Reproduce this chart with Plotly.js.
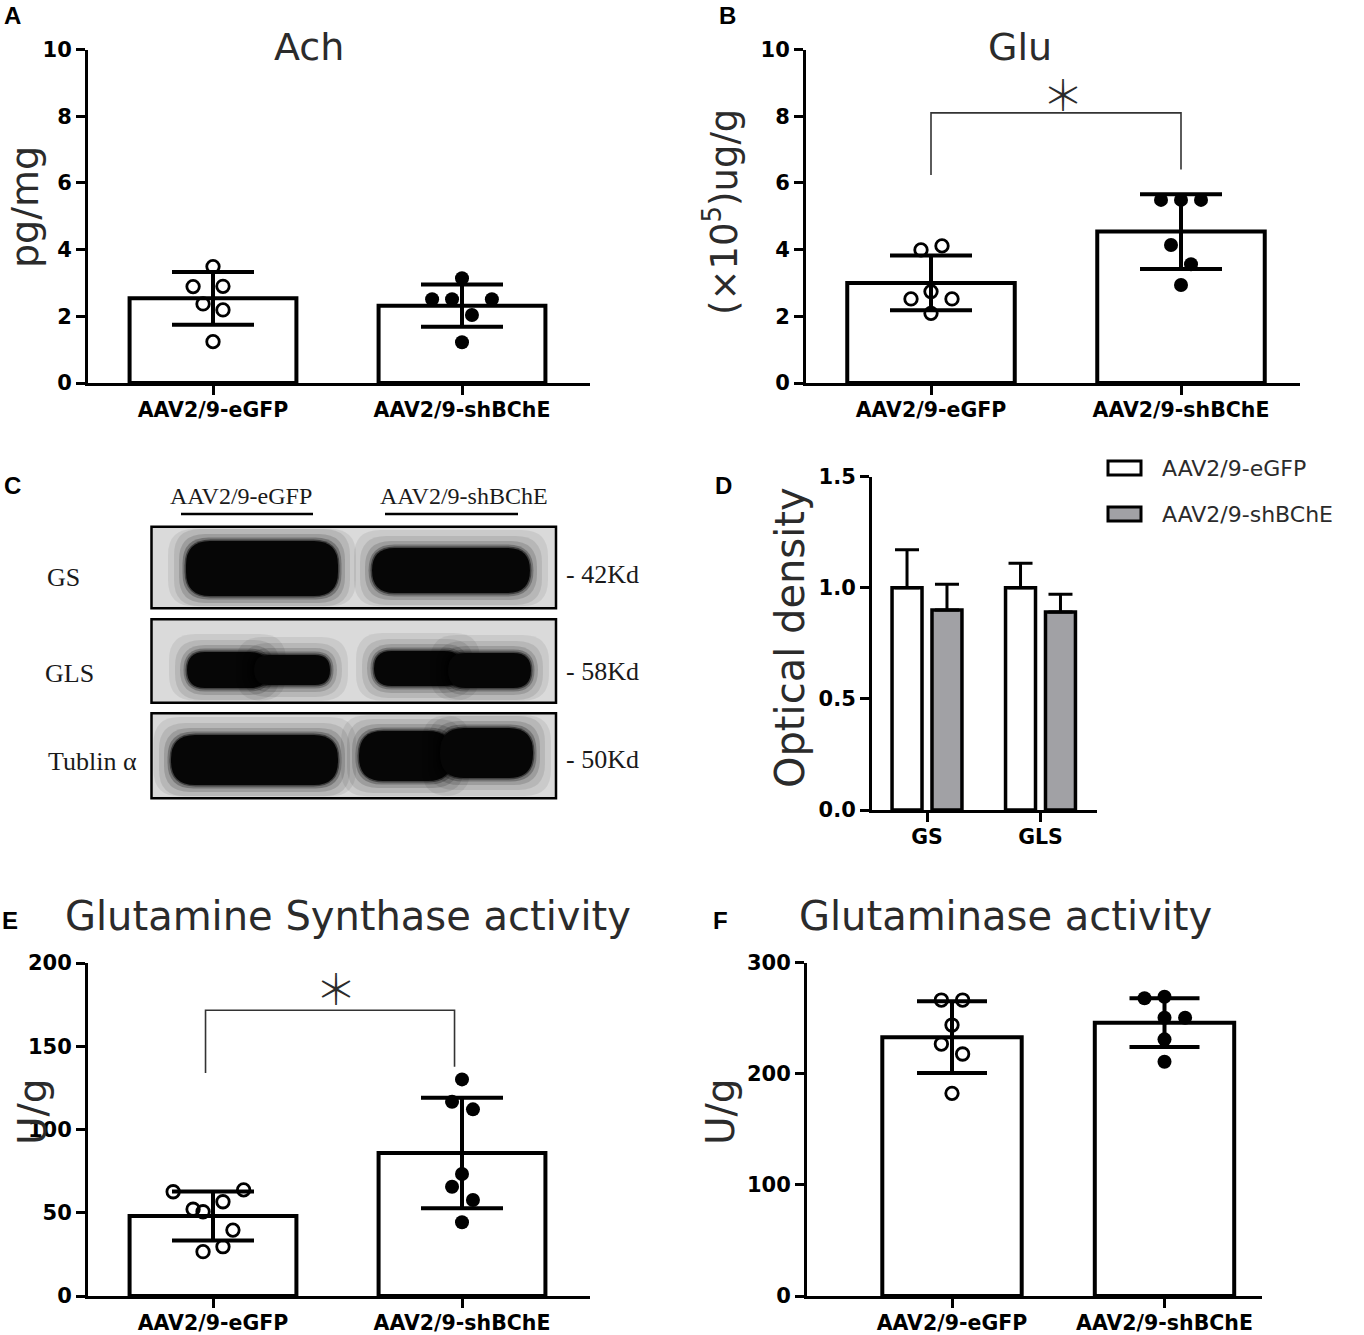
<!DOCTYPE html>
<html><head><meta charset="utf-8">
<script src="https://cdn.plot.ly/plotly-3.0.1.min.js"></script>
<style>body{margin:0;background:#fff}#chart{width:1364px;height:1335px}</style>
</head><body><div id="chart"></div>
<script>
// ---------------- DATA ----------------
const groups = ['AAV2/9-eGFP', 'AAV2/9-shBChE'];

// A: Ach (pg/mg)
const achMean = [2.54, 2.32];
const achSD = [0.79, 0.63];
const achEGFP = [3.49, 2.89, 2.90, 2.37, 2.19, 1.24];
const achEGFPjit = [0, -0.08, 0.04, -0.04, 0.04, 0];
const achSh = [3.14, 2.51, 2.51, 2.51, 2.04, 1.22];
const achShJit = [0, -0.12, -0.04, 0.12, 0.04, 0];

// B: Glu (x10^5 ug/g)
const gluMean = [3.00, 4.54];
const gluSD = [0.82, 1.12];
const gluEGFP = [3.99, 4.11, 2.74, 2.52, 2.52, 2.09];
const gluEGFPjit = [-0.04, 0.044, 0, -0.08, 0.084, 0];
const gluSh = [5.49, 5.49, 5.49, 4.14, 3.56, 2.94];
const gluShJit = [-0.08, 0, 0.08, -0.04, 0.04, 0];
const gluBracketX = [0, 0, 1, 1];
const gluBracketY = [6.24, 8.1, 8.1, 6.4];

// D: optical density
const odCats = ['GS', 'GLS'];
const odEGFP = [1.0, 1.0];
const odEGFPerr = [0.17, 0.11];
const odSh = [0.90, 0.89];
const odShErr = [0.115, 0.08];

// E: Glutamine Synthase activity (U/g)
const gsMean = [48.0, 85.9];
const gsSD = [14.7, 33.2];
const gsEGFP = [62.6, 63.7, 56.6, 52.1, 50.6, 39.6, 29.6, 26.6];
const gsEGFPjit = [-0.16, 0.123, 0.04, -0.08, -0.04, 0.08, 0.04, -0.04];
const gsSh = [130.1, 116.7, 112.1, 73.3, 65.6, 57.7, 44.3];
const gsShJit = [0, -0.04, 0.044, 0, -0.04, 0.044, 0];
const gsBracketX = [-0.03, -0.03, 0.97, 0.97];
const gsBracketY = [134, 171.6, 171.6, 137.7];

// F: Glutaminase activity (U/g)
const glsMean = [233, 246];
const glsSD = [32.3, 21.9];
const glsEGFP = [266.4, 266.4, 243.9, 226.8, 217.8, 182.4];
const glsEGFPjit = [-0.05, 0.05, 0, -0.05, 0.05, 0];
const glsSh = [268, 269.4, 250.5, 250.5, 231, 210.9];
const glsShJit = [-0.094, 0, 0, 0.097, 0, 0];

// C: western blot labels
const blotLanes = ['AAV2/9-eGFP', 'AAV2/9-shBChE'];
const blotRows = ['GS', 'GLS', 'Tublin α'];
const blotKd = ['42Kd', '58Kd', '50Kd'];

// ---------------- LAYOUT HELPERS ----------------
const W = 1364, H = 1335;
const px = v => v / W;
const py = v => 1 - v / H;
const TF = 'DejaVu Sans';
const panels = {
  A: {x0: 88, x1: 590, y0: 49.5, y1: 383, c0: 213, unit: 249, yr: [0, 10], tv: [0, 2, 4, 6, 8, 10]},
  B: {x0: 806, x1: 1300, y0: 49.5, y1: 383, c0: 931, unit: 250, yr: [0, 10], tv: [0, 2, 4, 6, 8, 10]},
  D: {x0: 872, x1: 1097, y0: 476.5, y1: 810, c0: 927, unit: 113.5, yr: [0, 1.5], tv: [0, 0.5, 1, 1.5]},
  E: {x0: 88, x1: 590, y0: 963, y1: 1296, c0: 213, unit: 249, yr: [0, 200], tv: [0, 50, 100, 150, 200]},
  F: {x0: 807, x1: 1262, y0: 962.7, y1: 1296, c0: 952, unit: 212.5, yr: [0, 300], tv: [0, 100, 200, 300]}
};
const axKeys = {A: ['x', 'y'], B: ['x2', 'y2'], D: ['x3', 'y3'], E: ['x4', 'y4'], F: ['x5', 'y5']};

const layout = {
  width: W, height: H, margin: {l: 0, r: 0, t: 0, b: 0},
  paper_bgcolor: '#fff', plot_bgcolor: 'rgba(0,0,0,0)',
  showlegend: false, barmode: 'overlay',
  shapes: [], annotations: []
};

for (const k in panels) {
  const p = panels[k];
  const [xk, yk] = axKeys[k];
  const xName = 'xaxis' + xk.slice(1), yName = 'yaxis' + yk.slice(1);
  const common = {
    showline: true, linewidth: 3, linecolor: '#000', ticks: 'outside', ticklen: 9,
    tickwidth: 3, tickcolor: '#000', showgrid: false, zeroline: false, fixedrange: true
  };
  layout[xName] = Object.assign({}, common, {
    domain: [px(p.x0), px(p.x1)],
    range: [(p.x0 - p.c0) / p.unit, (p.x1 - p.c0) / p.unit],
    tickvals: [0, 1], ticktext: k === 'D' ? odCats : groups,
    tickfont: {family: TF, size: 20.5, weight: 'bold', color: '#000'},
    ticklabelstandoff: -3,
    anchor: yk
  });
  layout[yName] = Object.assign({}, common, {
    domain: [py(p.y1), py(p.y0)], range: p.yr, tickvals: p.tv,
    tickfont: {family: TF, size: 21, weight: 'bold', color: '#000'},
    tickformat: k === 'D' ? '.1f' : 'd', anchor: xk
  });
}

// ---------------- TRACES ----------------
const traces = [];
function barPanel(k, mean, sd, w, capHalf, e1, j1, e2, j2) {
  const [xk, yk] = axKeys[k];
  traces.push({
    type: 'bar', x: [0, 1], y: mean, width: w, xaxis: xk, yaxis: yk, hoverinfo: 'skip',
    marker: {color: '#fff', line: {color: '#000', width: 4}},
    error_y: {type: 'data', array: sd, visible: true, color: '#000', thickness: 4, width: capHalf}
  });
  traces.push({
    type: 'scatter', mode: 'markers', x: j1.map(j => 0 + j), y: e1, xaxis: xk, yaxis: yk, hoverinfo: 'skip',
    marker: {symbol: 'circle-open', size: 12.5, color: '#000', line: {width: 2.8, color: '#000'}}
  });
  traces.push({
    type: 'scatter', mode: 'markers', x: j2.map(j => 1 + j), y: e2, xaxis: xk, yaxis: yk, hoverinfo: 'skip',
    marker: {symbol: 'circle', size: 14, color: '#000'}
  });
}
barPanel('A', achMean, achSD, 0.67, 41, achEGFP, achEGFPjit, achSh, achShJit);
barPanel('B', gluMean, gluSD, 0.67, 41, gluEGFP, gluEGFPjit, gluSh, gluShJit);
barPanel('E', gsMean, gsSD, 0.67, 41, gsEGFP, gsEGFPjit, gsSh, gsShJit);
barPanel('F', glsMean, glsSD, 0.656, 35, glsEGFP, glsEGFPjit, glsSh, glsShJit);

// brackets
traces.push({type: 'scatter', mode: 'lines', x: gluBracketX, y: gluBracketY, xaxis: 'x2', yaxis: 'y2',
  line: {color: '#333', width: 1.6}, hoverinfo: 'skip'});
traces.push({type: 'scatter', mode: 'lines', x: gsBracketX, y: gsBracketY, xaxis: 'x4', yaxis: 'y4',
  line: {color: '#333', width: 1.6}, hoverinfo: 'skip'});

// D grouped bars
traces.push({
  type: 'bar', x: [0, 1], y: odEGFP, width: 0.264, offset: -0.308, xaxis: 'x3', yaxis: 'y3', hoverinfo: 'skip',
  marker: {color: '#fff', line: {color: '#000', width: 3.5}},
  error_y: {type: 'data', symmetric: false, array: odEGFPerr, arrayminus: [0, 0], color: '#000', thickness: 3, width: 12}
});
traces.push({
  type: 'bar', x: [0, 1], y: odSh, width: 0.264, offset: 0.044, xaxis: 'x3', yaxis: 'y3', hoverinfo: 'skip',
  marker: {color: '#a1a1a5', line: {color: '#000', width: 3.5}},
  error_y: {type: 'data', symmetric: false, array: odShErr, arrayminus: [0, 0], color: '#000', thickness: 3, width: 12}
});

// ---------------- ANNOTATIONS ----------------
const ann = layout.annotations;
function txt(x, y, text, size, opts) {
  ann.push(Object.assign({
    xref: 'paper', yref: 'paper', x: px(x), y: py(y), text: text, showarrow: false,
    xanchor: 'center', yanchor: 'middle',
    font: {family: TF, size: size, color: '#2b2b2b'}
  }, opts || {}));
}
// panel letters
const letterFont = {family: 'Liberation Sans', size: 24, weight: 'bold', color: '#000'};
[['A', 12, 16], ['B', 727, 15], ['C', 12, 485], ['D', 723, 486], ['E', 10, 920], ['F', 720, 920]].forEach(l =>
  txt(l[1], l[2], l[0], 24, {font: letterFont}));
// titles
txt(309, 47, 'Ach', 38);
txt(1020, 47, 'Glu', 38);
txt(348, 916, 'Glutamine Synthase activity', 40);
txt(1005, 916, 'Glutaminase activity', 40);
// axis titles
txt(25, 207, 'pg/mg', 38, {textangle: -90});
txt(722, 212, '(×10<sup>5</sup>)ug/g', 37, {textangle: -90});
txt(790, 638, 'Optical density', 40, {textangle: -90});
txt(32, 1112, 'U/g', 39, {textangle: -90});
txt(720, 1112, 'U/g', 39, {textangle: -90});
// asterisks
ann.push({xref: 'x2', yref: 'y2', x: 0.528, y: 8.7, text: '＊', showarrow: false,
  font: {family: 'Noto Sans CJK SC', size: 42, color: '#2b2b2b', weight: 300}});
ann.push({xref: 'x4', yref: 'y4', x: 0.494, y: 186, text: '＊', showarrow: false,
  font: {family: 'Noto Sans CJK SC', size: 42, color: '#2b2b2b', weight: 300}});
// D legend
const shp = layout.shapes;
shp.push({type: 'rect', xref: 'paper', yref: 'paper', x0: px(1108), x1: px(1141), y0: py(475), y1: py(461),
  fillcolor: '#fff', line: {color: '#000', width: 3}});
shp.push({type: 'rect', xref: 'paper', yref: 'paper', x0: px(1108), x1: px(1141), y0: py(521), y1: py(507),
  fillcolor: '#a1a1a5', line: {color: '#000', width: 3}});
txt(1160, 468, groups[0], 22, {xanchor: 'left'});
txt(1160, 514, groups[1], 22, {xanchor: 'left'});

// ---------------- C: WESTERN BLOT ----------------
const serif = size => ({family: 'Liberation Serif', size: size, color: '#1a1a1a'});
txt(241, 496, blotLanes[0], 24, {font: serif(24)});
txt(464, 496, blotLanes[1], 24, {font: serif(24)});
[[181, 313], [385, 518]].forEach(u => shp.push({type: 'line', xref: 'paper', yref: 'paper',
  x0: px(u[0]), x1: px(u[1]), y0: py(514), y1: py(514), line: {color: '#000', width: 2.5}}));
const boxes = [[151.5, 526.7, 556, 608.3], [151.5, 619.3, 556, 702.7], [151.5, 713.3, 556, 798.3]];
const rowY = [577, 673, 761];
const rowX = [63, 69, 92];
const bands = [
  [[186, 541, 338, 596], [372, 548, 530, 593]],
  [[187, 652, 268, 688], [254, 655, 330, 685], [374, 651, 462, 686], [448, 653, 531, 688]],
  [[171, 735, 338, 785], [359, 731, 452, 781], [440, 728, 533, 778]]
];
function rr(x0, y0, x1, y1, r) {
  const X = v => px(v).toFixed(5), Y = v => py(v).toFixed(5);
  return `M${X(x0 + r)},${Y(y0)} L${X(x1 - r)},${Y(y0)} Q${X(x1)},${Y(y0)} ${X(x1)},${Y(y0 + r)} ` +
    `L${X(x1)},${Y(y1 - r)} Q${X(x1)},${Y(y1)} ${X(x1 - r)},${Y(y1)} L${X(x0 + r)},${Y(y1)} ` +
    `Q${X(x0)},${Y(y1)} ${X(x0)},${Y(y1 - r)} L${X(x0)},${Y(y0 + r)} Q${X(x0)},${Y(y0)} ${X(x0 + r)},${Y(y0)} Z`;
}
boxes.forEach((b, i) => {
  shp.push({type: 'rect', xref: 'paper', yref: 'paper', x0: px(b[0]), x1: px(b[2]), y0: py(b[3]), y1: py(b[1]),
    fillcolor: '#dadada', line: {width: 0}});
  bands[i].forEach(c => {
    [[18, 0.07], [12, 0.09], [7, 0.14], [3.5, 0.25], [1.5, 0.45]].forEach(h => {
      const x0 = Math.max(b[0] + 2, c[0] - h[0]), x1 = Math.min(b[2] - 2, c[2] + h[0]);
      const y0 = Math.max(b[1] + 2, c[1] - h[0]), y1 = Math.min(b[3] - 2, c[3] + h[0]);
      shp.push({type: 'path', xref: 'paper', yref: 'paper', path: rr(x0, y0, x1, y1, Math.min((y1 - y0) / 2, 26)),
        fillcolor: '#000', opacity: h[1], line: {width: 0}});
    });
    shp.push({type: 'path', xref: 'paper', yref: 'paper', path: rr(c[0], c[1], c[2], c[3], Math.min((c[3] - c[1]) / 2, 24)),
      fillcolor: '#060606', line: {width: 0}});
  });
  shp.push({type: 'rect', xref: 'paper', yref: 'paper', x0: px(b[0]), x1: px(b[2]), y0: py(b[3]), y1: py(b[1]),
    fillcolor: 'rgba(0,0,0,0)', line: {color: '#000', width: 2.5}});
  txt(rowX[i], rowY[i], blotRows[i], 26, {font: serif(26)});
  txt(564, rowY[i] - 2, '- ' + blotKd[i], 26, {font: serif(26), xanchor: 'left'});
});

Plotly.newPlot('chart', traces, layout, {staticPlot: true});
</script>
</body></html>
